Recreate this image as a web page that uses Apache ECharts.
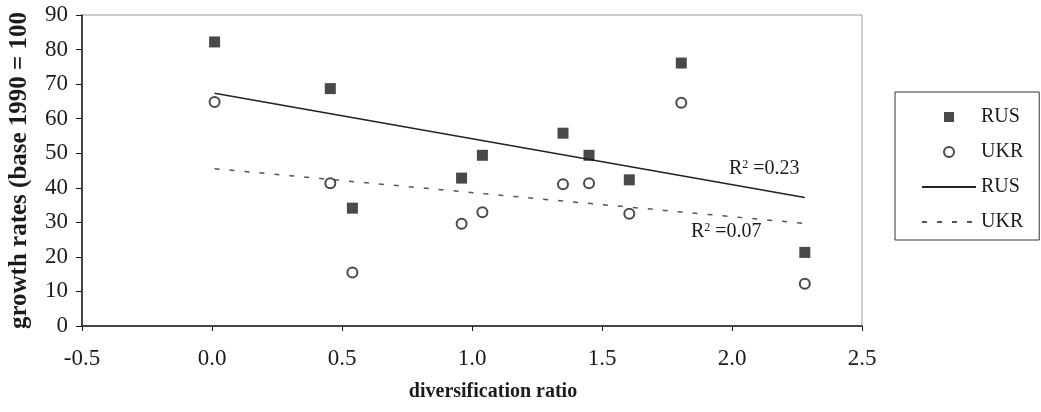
<!DOCTYPE html>
<html>
<head>
<meta charset="utf-8">
<script src="https://cdn.jsdelivr.net/npm/echarts/dist/echarts.min.js"></script>
<style>
html, body { margin: 0; padding: 0; background: #fff; }
#chart { width: 1041px; height: 412px; }
</style>
</head>
<body>
<div id="chart"></div>
<script>
// diversification ratio vs growth rate (base 1990 = 100)
const ratio = [0.01, 0.455, 0.54, 0.96, 1.04, 1.35, 1.45, 1.605, 1.805, 2.28];
const rusGrowth = [82.2, 68.7, 34.1, 42.8, 49.4, 55.8, 49.4, 42.3, 76.1, 21.3];
const ukrGrowth = [64.8, 41.3, 15.5, 29.6, 32.9, 41.0, 41.3, 32.5, 64.6, 12.2];
const xTicks = [-0.5, 2.5, 0.5];   // min, max, step
const yTicks = [0, 90, 10];
const rusR2 = '0.23';
const ukrR2 = '0.07';
const rusR2At = [2.124, 45.4];
const ukrR2At = [1.978, 27.2];

const font = 'Liberation Serif';
const ink = '#1b1b1b';

const pairs = (xs, ys) => xs.map((x, i) => [x, ys[i]]);

// least squares trend line, drawn over the range of the data
function trend(xs, ys) {
    const n = xs.length;
    const mx = xs.reduce((a, b) => a + b, 0) / n;
    const my = ys.reduce((a, b) => a + b, 0) / n;
    let sxy = 0, sxx = 0;
    xs.forEach((x, i) => { sxy += (x - mx) * (ys[i] - my); sxx += (x - mx) * (x - mx); });
    const b = sxy / sxx, a = my - b * mx;
    const lo = Math.min(...xs), hi = Math.max(...xs);
    return [[lo, a + b * lo], [hi, a + b * hi]];
}

const r2Label = (at, val) => ({
    symbol: 'circle',
    symbolSize: 0,
    silent: true,
    label: {
        show: true,
        position: 'inside',
        formatter: 'R{s|2} =' + val,
        fontFamily: font,
        fontSize: 20,
        color: ink,
        rich: { s: { fontFamily: font, fontSize: 12, color: ink, padding: [0, 0, 9, 0] } }
    },
    data: [{ coord: at }]
});

const chart = echarts.init(document.getElementById('chart'));

chart.setOption({
    animation: false,
    backgroundColor: '#fff',
    grid: {
        left: 82, right: 179, top: 15, bottom: 86,
        show: true, borderColor: '#9a9a9a', borderWidth: 1,
        outerBoundsMode: 'none'
    },
    xAxis: {
        type: 'value',
        min: xTicks[0], max: xTicks[1], interval: xTicks[2],
        name: 'diversification ratio',
        nameLocation: 'middle',
        nameGap: 56,
        nameTextStyle: { fontFamily: font, fontSize: 20, fontWeight: 'bold', color: ink, padding: [0, 0, 0, 42] },
        axisLine: { show: true, onZero: false, lineStyle: { color: ink, width: 1.5 } },
        axisTick: { show: true, inside: false, length: 5, lineStyle: { color: ink } },
        axisLabel: { fontFamily: font, fontSize: 23, color: ink, margin: 21, formatter: v => v.toFixed(1) },
        splitLine: { show: false }
    },
    yAxis: {
        type: 'value',
        min: yTicks[0], max: yTicks[1], interval: yTicks[2],
        name: 'growth rates (base 1990 = 100',
        nameLocation: 'middle',
        nameGap: 50,
        nameTextStyle: { fontFamily: font, fontSize: 25, fontWeight: 'bold', color: ink },
        axisLine: { show: true, onZero: false, lineStyle: { color: ink, width: 1.5 } },
        axisTick: { show: true, inside: false, length: 6, lineStyle: { color: ink } },
        axisLabel: { fontFamily: font, fontSize: 23, color: ink, margin: 14 },
        splitLine: { show: false }
    },
    legend: {
        orient: 'vertical',
        left: 895, top: 92,
        padding: [15, 16, 8, 26],
        itemGap: 15,
        itemWidth: 54, itemHeight: 10,
        borderColor: '#333', borderWidth: 1,
        selectedMode: false,
        data: [
            { name: 'RUS', icon: 'path://M0 0H10V10H0Z' },
            { name: 'UKR' },
            { name: 'RUS trend', itemStyle: { opacity: 0 } },
            { name: 'UKR trend', itemStyle: { opacity: 0 } }
        ],
        formatter: name => name.replace(' trend', ''),
        textStyle: { fontFamily: font, fontSize: 20, color: ink }
    },
    series: [
        {
            name: 'RUS trend',
            type: 'line',
            data: trend(ratio, rusGrowth),
            symbol: 'none',
            z: 1,
            lineStyle: { color: '#222', width: 1.5 },
            itemStyle: { color: '#222' },
            markPoint: r2Label(rusR2At, rusR2)
        },
        {
            name: 'UKR trend',
            type: 'line',
            data: trend(ratio, ukrGrowth),
            symbol: 'none',
            z: 1,
            lineStyle: { color: '#555', width: 1.5, type: [5, 10] },
            itemStyle: { color: '#555' },
            markPoint: r2Label(ukrR2At, ukrR2)
        },
        {
            name: 'RUS',
            type: 'scatter',
            data: pairs(ratio, rusGrowth),
            symbol: 'rect',
            symbolSize: 11,
            z: 3,
            itemStyle: { color: '#1c1c1c' }
        },
        {
            name: 'UKR',
            type: 'scatter',
            data: pairs(ratio, ukrGrowth),
            symbol: 'circle',
            symbolSize: 10,
            z: 3,
            itemStyle: { color: '#fff', borderColor: '#1c1c1c', borderWidth: 2 }
        }
    ]
});
</script>
</body>
</html>
